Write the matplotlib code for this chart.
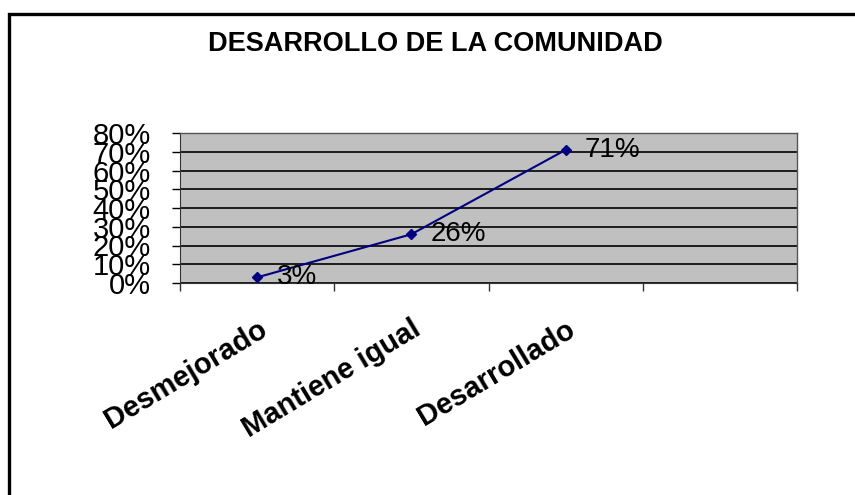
#!/usr/bin/env python3
import matplotlib
matplotlib.use("Agg")
import matplotlib.pyplot as plt
import matplotlib.patches as pat
from matplotlib.ticker import FixedLocator, PercentFormatter

# datos del grafico
categorias = ["Desmejorado", "Mantiene igual", "Desarrollado"]
valores = [0.03, 0.26, 0.71]
etiquetas = ["3%", "26%", "71%"]
titulo = "DESARROLLO DE LA COMUNIDAD"
n_slots = 4  # Excel deja un hueco vacio a la derecha

plt.rcParams['font.family'] = ['Liberation Sans', 'DejaVu Sans']

fig = plt.figure(figsize=(8.55, 4.95), dpi=100, facecolor='white')

# marco del grafico (solo se ven los lados izquierdo y superior)
marco = pat.Rectangle((9/855, -0.1), 1.2, 1 - 14/495 + 0.1, transform=fig.transFigure,
                      fill=False, ec='black', lw=2.4, zorder=0)
fig.patches.append(marco)

ax = fig.add_axes([180/855, 212/495, 617/855, 150/495])
ax.set_facecolor('#C0C0C0')

xs = [i + 0.5 for i in range(len(categorias))]
ax.plot(xs, valores, color='#000080', lw=1.5, marker='D', markersize=5.5, zorder=3)
for x, v, t in zip(xs, valores, etiquetas):
    ax.annotate(t, (x, v), xytext=(14, 0), textcoords='offset points',
                ha='left', va='center', fontsize=20, zorder=4)

ax.set_xlim(0, n_slots)
ax.set_ylim(0, 0.8)
ax.set_yticks([i / 10 for i in range(9)])
ax.yaxis.set_major_formatter(PercentFormatter(1.0, decimals=0))
ax.grid(axis='y', color='black', lw=1.2)
ax.set_axisbelow(True)

ax.set_xticks(xs)
ax.set_xticklabels(categorias, rotation=31, ha='right', rotation_mode='anchor',
                   fontsize=21, fontweight='bold')
ax.xaxis.set_minor_locator(FixedLocator(range(n_slots + 1)))
ax.tick_params(axis='x', which='major', length=0, pad=23)
ax.tick_params(axis='x', which='minor', length=6, width=1, color='#333333')
ax.tick_params(axis='y', length=6, width=1, labelsize=21, pad=15)

for s in ['top', 'right']:
    ax.spines[s].set_color('#555555')
    ax.spines[s].set_linewidth(1)
ax.spines['left'].set_color('#333333')
ax.spines['bottom'].set_color('#333333')

fig.text(435/855, 1 - 44/495, titulo, ha='center', va='center',
         fontsize=19.5, fontweight='bold')

fig.savefig('out.png', dpi=100, facecolor='white')
